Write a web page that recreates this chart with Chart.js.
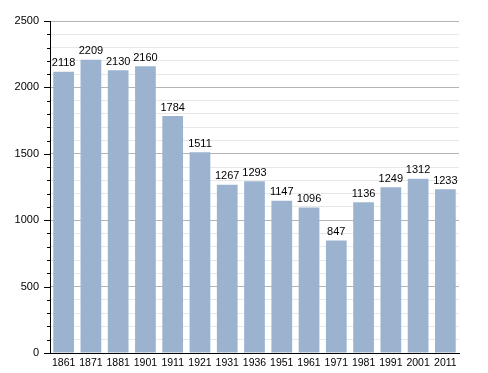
<!DOCTYPE html>
<html>
<head>
<meta charset="utf-8">
<script src="https://cdn.jsdelivr.net/npm/chart.js@4"></script>
<style>
  html, body { margin: 0; padding: 0; background: #fff; }
  #wrap { width: 488px; height: 373px; }
</style>
</head>
<body>
<div id="wrap"><canvas id="chart" width="488" height="373"></canvas></div>
<script>
// census years and population
const years = ['1861', '1871', '1881', '1901', '1911', '1921', '1931', '1936', '1951', '1961', '1971', '1981', '1991', '2001', '2011'];
const population = [2118, 2209, 2130, 2160, 1784, 1511, 1267, 1293, 1147, 1096, 847, 1136, 1249, 1312, 1233];
const yTicks = [0, 500, 1000, 1500, 2000, 2500];

const FONT = '"Liberation Sans", Arial, sans-serif';

// value labels above each bar
const barLabels = {
  id: 'barLabels',
  afterDatasetsDraw: (ch) => {
    const { ctx } = ch;
    const meta = ch.getDatasetMeta(0);
    ctx.save();
    ctx.font = `11px ${FONT}`;
    ctx.fillStyle = '#000';
    ctx.textAlign = 'center';
    ctx.textBaseline = 'bottom';
    meta.data.forEach((bar, i) => {
      ctx.fillText(String(population[i]), bar.x, bar.y - 3);
    });
    ctx.restore();
  },
};

// short minor / long major tick marks on the y axis
const yTickMarks = {
  id: 'yTickMarks',
  afterDraw: (ch) => {
    const { ctx } = ch;
    const y = ch.scales.y;
    const left = ch.chartArea.left;
    ctx.save();
    ctx.strokeStyle = '#000';
    ctx.lineWidth = 1;
    for (let v = 0; v <= 2500; v += 100) {
      const py = Math.round(y.getPixelForValue(v)) + 0.5;
      const len = v % 500 === 0 ? 6 : 3;
      ctx.beginPath();
      ctx.moveTo(left - len, py);
      ctx.lineTo(left, py);
      ctx.stroke();
    }
    ctx.restore();
  },
};

// eslint-disable-next-line no-undef
new Chart(document.getElementById('chart'), {
  type: 'bar',
  data: {
    labels: years,
    datasets: [{
      data: population,
      backgroundColor: '#9bb3cf',
      barPercentage: 0.76,
      categoryPercentage: 1,
    }],
  },
  plugins: [barLabels, yTickMarks],
  options: {
    responsive: false,
    animation: false,
    layout: {
      padding: { top: 21, right: 29, left: 0, bottom: 0 },
    },
    plugins: {
      legend: { display: false },
      tooltip: { enabled: false },
    },
    scales: {
      x: {
        grid: { display: false, drawTicks: false, tickLength: 0 },
        border: { display: true, color: '#000', width: 1 },
        ticks: {
          color: '#000',
          font: { family: FONT, size: 10.5 },
          padding: 4,
          maxRotation: 0,
          autoSkip: false,
        },
        afterFit: (scale) => { scale.height = 20; },
      },
      y: {
        min: 0,
        max: 2500,
        grid: {
          drawTicks: false,
          color: (c) => (c.tick && c.tick.value % 500 === 0 ? '#b4b4b4' : '#e8e8e8'),
        },
        border: { display: true, color: '#000', width: 1 },
        ticks: {
          stepSize: 100,
          autoSkip: false,
          padding: 11,
          color: '#000',
          font: { family: FONT, size: 11 },
          callback: (value) => (yTicks.includes(value) ? String(value) : ''),
        },
        afterFit: (scale) => { scale.width = 50; },
      },
    },
  },
});
</script>
</body>
</html>
